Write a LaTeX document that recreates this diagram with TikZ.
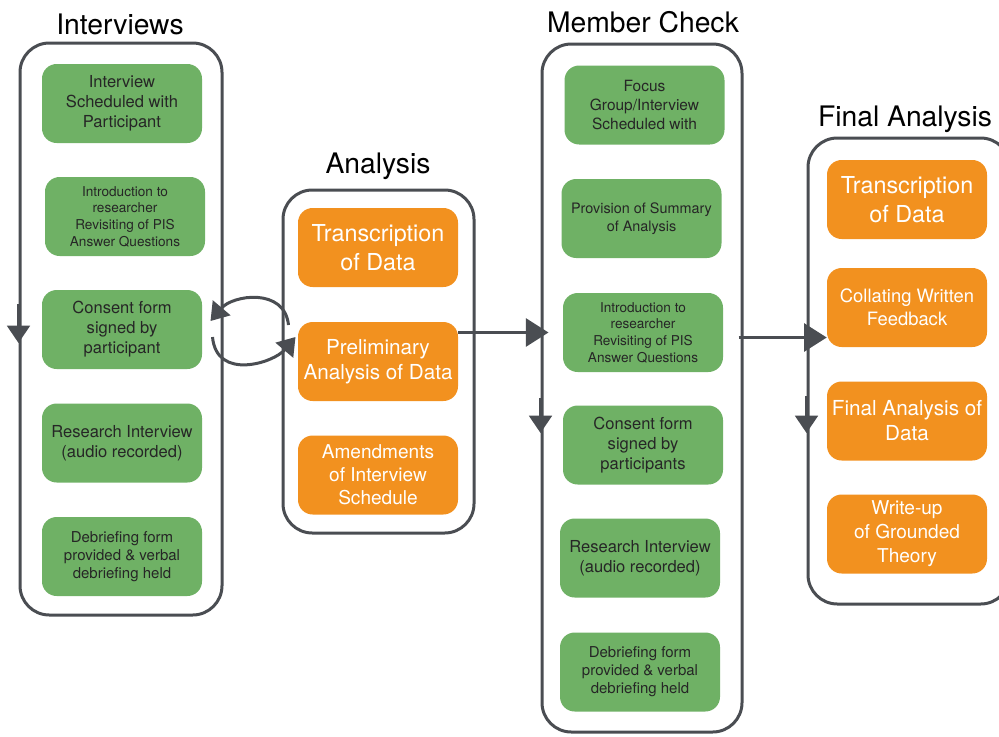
\documentclass[tikz,border=0pt]{standalone}
\usepackage{fontspec}
\setmainfont{TeX Gyre Heros}
\usetikzlibrary{arrows.meta,calc}
\definecolor{stroke}{HTML}{4A4D52}
\definecolor{leaf}{HTML}{6FB165}
\definecolor{amber}{HTML}{F2911F}
\definecolor{ink}{HTML}{262626}
\newcommand\fsz[2]{\fontsize{#1}{#2}\selectfont}
\tikzset{
  phase/.style={draw=stroke, line width=2.25pt, rounded corners=22pt, inner sep=0pt},
  greenbox/.style={fill=leaf, text=ink, rounded corners=11pt, minimum width=120pt, minimum height=59.25pt, align=center, inner sep=0pt, font=\fsz{12.4}{15}},
  orangebox/.style={greenbox, fill=amber, text=white},
  phasetitle/.style={anchor=base, font=\fsz{21.2}{25}, text=black},
  flow/.style={draw=stroke, line width=2.25pt, -{Triangle[length=13pt,width=17pt]}},
  bigflow/.style={flow, -{Triangle[length=17pt,width=21pt]}},
}
\begin{document}
\begin{tikzpicture}[x=0.75pt, y=-0.75pt]
  \useasboundingbox (0,0) rectangle (999,736);
  % phase frames
  \node[phase, minimum width=151.5pt, minimum height=429pt] (iv) at (121,329) {};
  \node[phase, minimum width=143.25pt, minimum height=257.25pt] (an) at (378.5,361.5) {};
  \node[phase, minimum width=150pt, minimum height=516pt] (mc) at (642,388) {};
  \node[phase, minimum width=151.5pt, minimum height=349.5pt] (fa) at (909,371) {};

  \node[phasetitle] (ivt) at (120,34) {Interviews};
  \node[phasetitle] (ant) at (378,173) {Analysis};
  \node[phasetitle] (mct) at (643,32) {Member Check};
  \node[phasetitle] (fat) at (905,126) {Final Analysis};

  % interviews
  \node[greenbox] (iv1) at (122,103.5) {Interview\\Scheduled with\\Participant};
  \node[greenbox, font=\fsz{10.2}{12.5}] (iv2) at (125,216.5) {Introduction to\\researcher\\Revisiting of PIS\\Answer Questions};
  \node[greenbox] (iv3) at (122,329.5) {Consent form\\signed by\\participant};
  \node[greenbox] (iv4) at (122,443) {Research Interview\\(audio recorded)};
  \node[greenbox, font=\fsz{11.25}{13.5}] (iv5) at (122,556.5) {Debriefing form\\provided \& verbal\\debriefing held};

  % analysis
  \node[orangebox, font=\fsz{17.5}{21.75}] (an1) at (378,247.5) {Transcription\\of Data};
  \node[orangebox, font=\fsz{15.5}{18.75}] (an2) at (378,361.5) {Preliminary\\Analysis of Data};
  \node[orangebox, font=\fsz{14.3}{17.25}] (an3) at (378,475) {Amendments\\of Interview\\Schedule};

  % member check
  \node[greenbox, font=\fsz{11.6}{14.5}] (mc1) at (644.5,105) {Focus\\Group/Interview\\Scheduled with};
  \node[greenbox, font=\fsz{10.8}{13.5}] (mc2) at (641.5,218.5) {Provision of Summary\\of Analysis};
  \node[greenbox, font=\fsz{10.2}{12.5}] (mc3) at (643,332.5) {Introduction to\\researcher\\Revisiting of PIS\\Answer Questions};
  \node[greenbox] (mc4) at (643,445) {Consent form\\signed by\\participants};
  \node[greenbox] (mc5) at (640,558) {Research Interview\\(audio recorded)};
  \node[greenbox, font=\fsz{11.25}{13.5}] (mc6) at (640,672) {Debriefing form\\provided \& verbal\\debriefing held};

  % final analysis
  \node[orangebox, font=\fsz{17.5}{21.75}] (fa1) at (907,199.5) {Transcription\\of Data};
  \node[orangebox, font=\fsz{13.8}{17.25}] (fa2) at (907,307.5) {Collating Written\\Feedback};
  \node[orangebox, font=\fsz{15.5}{18.75}] (fa3) at (907,421) {Final Analysis of\\Data};
  \node[orangebox, font=\fsz{14.3}{18}] (fa4) at (907,534) {Write-up\\of Grounded\\Theory};

  % flow along frames
  \draw[flow] ($(iv.west)+(0,-25)$) -- ($(iv.west)+(0,14)$);
  \draw[flow] ($(mc.west)+(0,10)$) -- ($(mc.west)+(0,45)$);
  \draw[flow] ($(fa.west)+(0,25)$) -- ($(fa.west)+(0,62)$);

  % loop between interviews and analysis
  \coordinate (loop) at ($(iv.east)!0.5!(an.west |- iv.east)$);
  \draw[flow] ($(loop)+(36,-4)$) .. controls +(-4,-38) and +(22,-26) .. ($(loop)+(-42,-8)$);
  \draw[flow] ($(loop)+(-40,8)$) .. controls +(4,44) and +(-22,26) .. ($(loop)+(43,8)$);

  % phase to phase
  \draw[bigflow] (an2.east |- mc3) -- ($(mc.west |- mc3)+(8,0)$);
  \draw[bigflow] ($(mc.east |- mc3)+(-5,5)$) -- ($(fa2.west |- mc3)+(0,5)$);
\end{tikzpicture}
\end{document}
